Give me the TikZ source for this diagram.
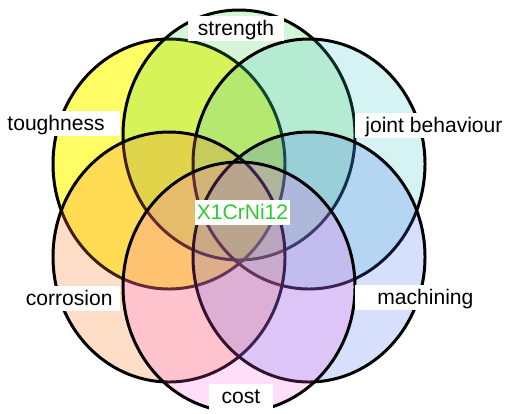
\documentclass[tikz,border=0pt]{standalone}
\usepackage{fontspec}
\setmainfont{Liberation Sans}
\definecolor{toughcol}{RGB}{255,252,17}
\definecolor{strengthcol}{RGB}{50,205,50}
\definecolor{jointcol}{RGB}{50,195,195}
\definecolor{corrcol}{RGB}{255,123,35}
\definecolor{machcol}{RGB}{50,100,240}
\definecolor{costcol}{RGB}{255,90,230}
\definecolor{steelcol}{RGB}{50,200,50}

\begin{document}
\begin{tikzpicture}[x=0.02cm,y=-0.02cm,
		ring/.style={line width=1.7pt,draw=black},
		tag/.style={fill=white,inner ysep=0pt,text height=11pt,text depth=3.3pt,font=\fontsize{12}{14}\selectfont}]
				\useasboundingbox (0,0) rectangle (506,413);

				% the six sets, drawn one over the other
				\foreach \cx/\cy/\col/\op in {169/164/toughcol/0.65,239/135/strengthcol/0.2,309/164/jointcol/0.2,169/257/corrcol/0.25,309/257/machcol/0.2,239/287/costcol/0.2}{
					\filldraw[ring,fill=\col,fill opacity=\op] (\cx,\cy) ellipse [x radius=116,y radius=125];
				}

				\node[tag,inner xsep=5.7pt] (strength) at (236,28.5) {strength};
				\node[tag,inner xsep=8.5pt,anchor=east] (toughness) at (120,123.5) {toughness};
				\node[tag,inner xsep=5.7pt,anchor=west] (joint) at (355,125.5) {joint behaviour};
				\node[tag,inner xsep=4pt,anchor=east] (corrosion) at (120,298.5) {corrosion};
				\node[tag,inner xsep=12.5pt,anchor=west] (machining) at (355,297.5) {machining};
				\node[tag,inner xsep=7pt,text depth=6pt,anchor=base] (cost) at (241,403) {cost};
				\node[tag,inner xsep=1pt,text=steelcol] (steel) at (242.5,212.5) {X1CrNi12};
			\end{tikzpicture}
\end{document}
